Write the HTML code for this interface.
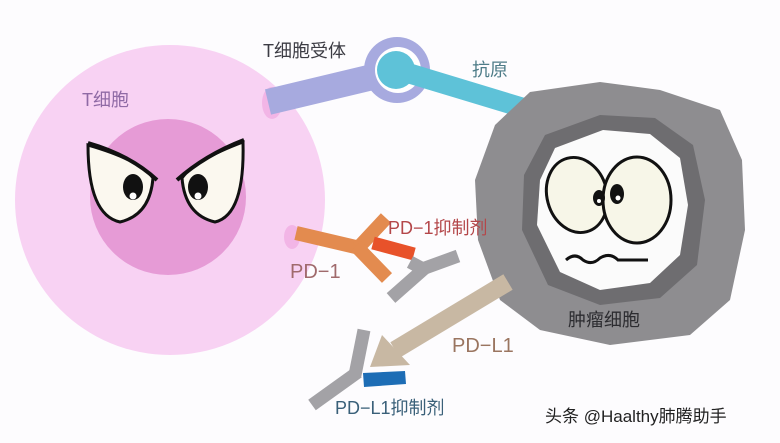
<!DOCTYPE html>
<html><head><meta charset="utf-8"><style>
html,body{margin:0;padding:0;background:#fdfcfe}
svg text{font-family:"Liberation Sans","Noto Sans CJK SC",sans-serif}
</style></head><body>
<svg width="780" height="438" viewBox="0 0 780 438" xmlns="http://www.w3.org/2000/svg">
<rect width="780" height="438" fill="#fdfcfe"/>
<!-- T cell -->
<circle cx="170" cy="200" r="155" fill="#f8d2f3"/>
<circle cx="168" cy="197" r="78" fill="#e69bd6"/>
<ellipse cx="272" cy="103" rx="10" ry="16" fill="#f2b5e6"/>
<ellipse cx="292" cy="237" rx="8" ry="12" fill="#f2b5e6"/>
<!-- eyes -->
<path d="M88,145 Q140,160 153,178 Q150,215 120,222 Q88,215 88,145Z" fill="#fbf8ef" stroke="#111" stroke-width="3"/>
<path d="M243,142 Q195,160 182,178 Q185,215 215,222 Q245,215 243,142Z" fill="#fbf8ef" stroke="#111" stroke-width="3"/>
<path d="M88,143 Q130,155 157,180" fill="none" stroke="#111" stroke-width="4"/>
<path d="M244,140 Q205,155 177,180" fill="none" stroke="#111" stroke-width="4"/>
<ellipse cx="133" cy="187" rx="10" ry="13" fill="#111"/><circle cx="133" cy="196" r="3.5" fill="#fff"/>
<ellipse cx="198" cy="187" rx="10" ry="13" fill="#111"/><circle cx="198" cy="196" r="3.5" fill="#fff"/>
<!-- receptor -->
<line x1="268" y1="102" x2="385" y2="74" stroke="#a7aadf" stroke-width="26"/>
<circle cx="397" cy="70" r="33" fill="#a7aadf"/>
<circle cx="398" cy="70" r="23" fill="#fff"/>
<circle cx="396" cy="70" r="19" fill="#5ec2d8"/>
<line x1="398" y1="70" x2="540" y2="113" stroke="#5ec2d8" stroke-width="20"/>
<!-- tumor -->
<polygon points="530,92 600,82 660,90 720,110 742,160 745,230 730,300 690,335 610,345 540,330 500,300 478,240 475,180 495,125" fill="#8e8d90"/>
<polygon points="545,135 600,115 655,118 693,145 705,200 697,265 660,298 600,305 548,285 522,230 524,175" fill="#6e6d70"/>
<polygon points="555,148 603,130 650,134 680,158 688,205 680,255 650,283 600,290 560,272 537,225 540,180" fill="#fbfbfb"/>
<ellipse cx="577" cy="195" rx="30" ry="38" fill="#f7f6e8" stroke="#111" stroke-width="3" transform="rotate(-15 577 195)"/>
<ellipse cx="637" cy="200" rx="34" ry="43" fill="#f7f6e8" stroke="#111" stroke-width="3"/>
<ellipse cx="599" cy="198" rx="6" ry="8" fill="#111"/><circle cx="599" cy="201" r="2" fill="#fff"/>
<ellipse cx="617" cy="194" rx="7" ry="10" fill="#111"/><circle cx="618" cy="198" r="2.5" fill="#fff"/>
<path d="M566,260 Q575,252 583,260 Q592,266 600,258 Q610,252 618,260 L648,260" fill="none" stroke="#111" stroke-width="3"/>
<!-- PD-1 orange Y -->
<g stroke="#e38b4f" stroke-width="14" fill="none" stroke-linecap="butt">
<line x1="296" y1="233" x2="360" y2="248"/>
<line x1="358" y1="248" x2="386" y2="218"/>
<line x1="356" y1="246" x2="387" y2="278"/>
</g>
<line x1="373" y1="243" x2="414" y2="254" stroke="#e8522a" stroke-width="13"/>
<g stroke="#a3a2a6" stroke-width="13" fill="none">
<line x1="410" y1="262" x2="425" y2="270"/>
<line x1="425" y1="268" x2="458" y2="256"/>
<line x1="425" y1="268" x2="391" y2="298"/>
</g>
<!-- PD-L1 arrow -->
<line x1="508" y1="282" x2="395" y2="350" stroke="#c8b8a3" stroke-width="18"/>
<polygon points="370,367 382,335 410,365" fill="#c8b8a3"/>
<g stroke="#a3a2a6" stroke-width="13" fill="none">
<line x1="364" y1="330" x2="355" y2="375"/>
<line x1="358" y1="372" x2="312" y2="405"/>
</g>
<polygon points="363,373 405,371 406,384 364,387" fill="#1d6db5"/>
<!-- labels -->
<text x="263" y="57" font-size="18" fill="#3c3c44">T细胞受体</text>
<text x="472" y="76" font-size="18" fill="#4e7c88">抗原</text>
<text x="82" y="106" font-size="18" fill="#8f6aa5">T细胞</text>
<text x="388" y="234" font-size="18" fill="#b4474a">PD−1抑制剂</text>
<text x="290" y="278" font-size="20" fill="#a06a6c">PD−1</text>
<text x="452" y="352" font-size="20" fill="#9a7560">PD−L1</text>
<text x="335" y="414" font-size="18" fill="#3a6079">PD−L1抑制剂</text>
<text x="568" y="326" font-size="18" fill="#2c2c30">肿瘤细胞</text>
<text x="545" y="422" font-size="17" fill="#222">头条 @Haalthy肺腾助手</text>
</svg>
</body></html>
